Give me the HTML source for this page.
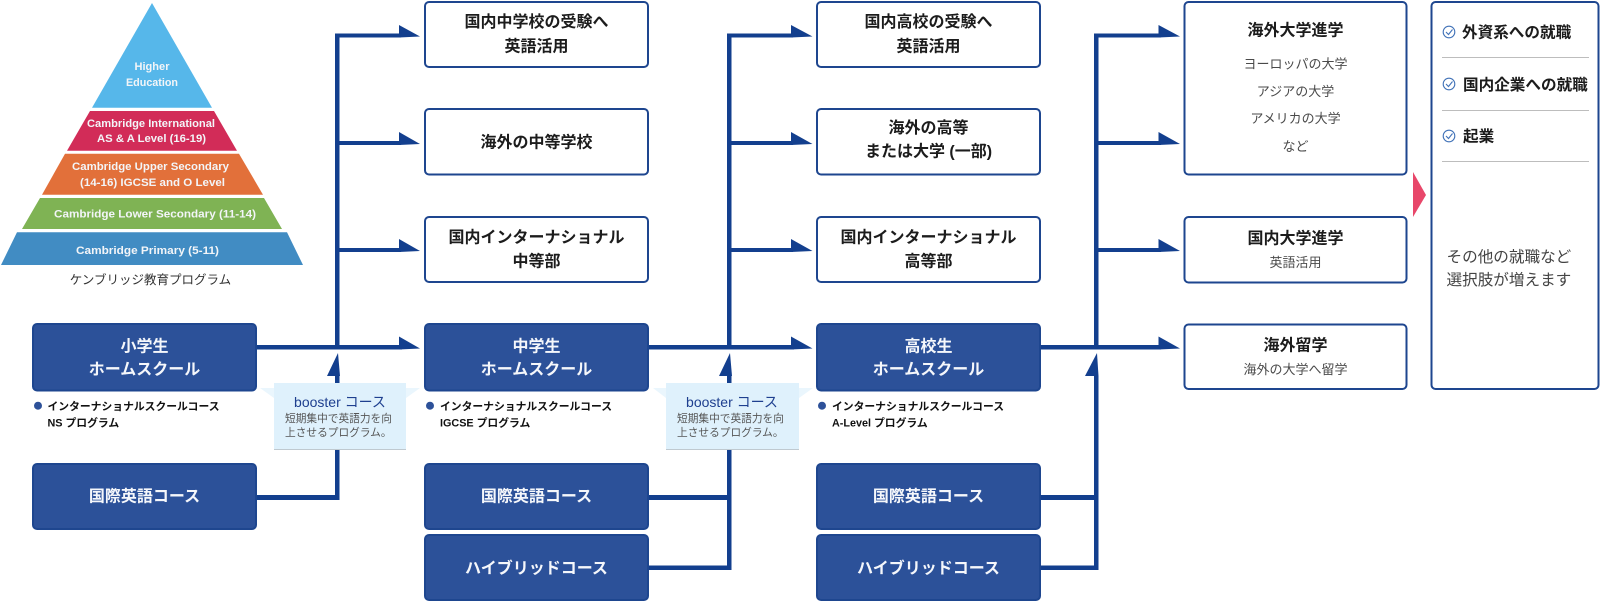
<!DOCTYPE html>
<html lang="ja"><head><meta charset="utf-8"><title>Cambridge Pathway</title>
<style>
html,body{margin:0;padding:0;background:#fff;width:1600px;height:602px;overflow:hidden}
svg{display:block}
text{font-family:"Liberation Sans","Noto Sans CJK JP",sans-serif;text-anchor:middle;dominant-baseline:central}
.b{fill:#2c5199;stroke:#1e468f;stroke-width:2}
.w{fill:#fff;stroke:#1e468f;stroke-width:2}
.bt{fill:#f5f7fb;font-size:16px;font-weight:700;transform:translateY(1px)}
.wt{fill:#1c1c1c;font-size:16px;font-weight:700;transform:translateY(1px)}
.sub{fill:#4a4a4a;font-size:13px;transform:translateY(.5px)}
.py{fill:#f3f5f8;font-size:11px;font-weight:700;transform:translateY(1px)}
.bl{fill:#111;font-size:10.8px;font-weight:700;text-anchor:start;transform:translateY(1px)}
.bh{fill:#1e3f8f;font-size:14px}
.bd{fill:#555;font-size:10.7px;text-anchor:start;transform:translateY(1px)}
.li{fill:#1c1c1c;font-size:15.6px;font-weight:700;text-anchor:start;transform:translateY(2px)}
.ot{fill:#444;font-size:15.6px;text-anchor:start;transform:translateY(.5px)}
.ln{fill:#133f8e}
.ck{fill:none;stroke:#4273b8;stroke-width:1.1}
</style></head><body>
<svg width="1600" height="602" viewBox="0 0 1600 602" xmlns="http://www.w3.org/2000/svg">
<!-- pyramid -->
<polygon points="152,3 212,107.7 92,107.7" fill="#56b7ea"/>
<polygon points="90,111 214,111 237,150.7 67,150.7" fill="#d22c58"/>
<polygon points="65,153.7 239,153.7 263,194.7 42,194.7" fill="#e2703a"/>
<polygon points="40,198 264,198 282,229 22,229" fill="#7fb354"/>
<polygon points="17,232.3 287,232.3 303,265 1,265" fill="#418cc3"/>
<text class="py" x="152" y="66" textLength="35" lengthAdjust="spacingAndGlyphs">Higher</text>
<text class="py" x="152" y="82" textLength="52" lengthAdjust="spacingAndGlyphs">Education</text>
<text class="py" x="151" y="123" textLength="128" lengthAdjust="spacingAndGlyphs">Cambridge International</text>
<text class="py" x="151.5" y="138" textLength="109" lengthAdjust="spacingAndGlyphs">AS &amp; A Level (16-19)</text>
<text class="py" x="150.5" y="166" textLength="157" lengthAdjust="spacingAndGlyphs">Cambridge Upper Secondary</text>
<text class="py" x="152.5" y="182" textLength="145" lengthAdjust="spacingAndGlyphs">(14-16) IGCSE and O Level</text>
<text class="py" x="155" y="213.5" textLength="202" lengthAdjust="spacingAndGlyphs">Cambridge Lower Secondary (11-14)</text>
<text class="py" x="147.5" y="250" textLength="143" lengthAdjust="spacingAndGlyphs">Cambridge Primary (5-11)</text>
<text x="150.5" y="280" font-size="12.5" fill="#333">ケンブリッジ教育プログラム</text>

<!-- connectors col1 -->
<g class="ln">
<rect x="335" y="33.5" width="66" height="4"/><rect x="335" y="33.5" width="4.5" height="316"/>
<rect x="335" y="141" width="66" height="4"/><rect x="335" y="248" width="66" height="4"/>
<rect x="256" y="345" width="146" height="4.5"/>
<polygon points="399,25 420,36.5 399,37.5"/><polygon points="399,132 420,144 399,145"/><polygon points="399,239 420,251 399,252"/><polygon points="399,336.5 420,348.5 399,349.5"/>
<polygon points="338,353 340,376 327,376"/><rect x="335" y="376" width="4.5" height="10"/>
<rect x="335" y="445" width="4.5" height="55"/><rect x="256" y="495" width="83.5" height="5"/>
<!-- col2 -->
<rect x="727" y="33.5" width="66" height="4"/><rect x="727" y="33.5" width="4.5" height="316"/>
<rect x="727" y="141" width="66" height="4"/><rect x="727" y="248" width="66" height="4"/>
<rect x="648" y="345" width="146" height="4.5"/>
<polygon points="791,25 812.5,36.5 791,37.5"/><polygon points="791,132 812.5,144 791,145"/><polygon points="791,239 812.5,251 791,252"/><polygon points="791,336.5 812.5,348.5 791,349.5"/>
<polygon points="730,353 732,376 719,376"/><rect x="727" y="376" width="4.5" height="10"/>
<rect x="727" y="445" width="4.5" height="125"/><rect x="648" y="495" width="83.5" height="5"/><rect x="648" y="565.5" width="83.5" height="4.5"/>
<!-- col3 -->
<rect x="1094" y="33.5" width="67" height="4"/><rect x="1094" y="33.5" width="4.5" height="316"/>
<rect x="1094" y="141" width="67" height="4"/><rect x="1094" y="248" width="67" height="4"/>
<rect x="1040" y="345" width="121" height="4.5"/>
<polygon points="1158.5,25 1180,36.5 1158.5,37.5"/><polygon points="1158.5,132 1180,144 1158.5,145"/><polygon points="1158.5,239 1180,251 1158.5,252"/><polygon points="1158.5,336.5 1180,348.5 1158.5,349.5"/>
<polygon points="1097,353 1098.5,376 1085,376"/><rect x="1094" y="376" width="4.5" height="194"/>
<rect x="1040" y="495" width="58.5" height="5"/><rect x="1040" y="565.5" width="58.5" height="4.5"/>
</g>

<!-- boosters -->
<g fill="#eaf6fd">
<polygon points="260,388 274,388 274,398"/><polygon points="406,388 420,388 406,398"/>
<polygon points="653,388 666,388 666,398"/><polygon points="799,388 813,388 799,398"/>
</g>
<g fill="#dff1fc">
<rect x="274" y="383" width="132" height="66"/>
<rect x="666" y="383" width="133" height="66"/>
</g>
<rect x="274" y="449" width="132" height="1" fill="#bfc9d0"/>
<rect x="666" y="449" width="133" height="1" fill="#bfc9d0"/>
<text class="bh" x="340" y="402">booster コース</text>
<text class="bd" x="285" y="418">短期集中で英語力を向</text>
<text class="bd" x="285" y="432">上させるプログラム。</text>
<text class="bh" x="732" y="402">booster コース</text>
<text class="bd" x="677" y="418">短期集中で英語力を向</text>
<text class="bd" x="677" y="432">上させるプログラム。</text>

<!-- blue boxes -->
<g class="b">
<rect x="33" y="324" width="223" height="66.5" rx="4"/><rect x="33" y="464" width="223" height="65" rx="4"/>
<rect x="425" y="324" width="223" height="66.5" rx="4"/><rect x="425" y="464" width="223" height="65" rx="4"/><rect x="425" y="535" width="223" height="65" rx="4"/>
<rect x="817" y="324" width="223" height="66.5" rx="4"/><rect x="817" y="464" width="223" height="65" rx="4"/><rect x="817" y="535" width="223" height="65" rx="4"/>
</g>
<text class="bt" x="144.5" y="346">小学生</text><text class="bt" x="144.5" y="369">ホームスクール</text>
<text class="bt" x="144.5" y="496">国際英語コース</text>
<text class="bt" x="536.5" y="346">中学生</text><text class="bt" x="536.5" y="369">ホームスクール</text>
<text class="bt" x="536.5" y="496">国際英語コース</text><text class="bt" x="536.5" y="568">ハイブリッドコース</text>
<text class="bt" x="928.5" y="346">高校生</text><text class="bt" x="928.5" y="369">ホームスクール</text>
<text class="bt" x="928.5" y="496">国際英語コース</text><text class="bt" x="928.5" y="568">ハイブリッドコース</text>

<!-- bullets -->
<g fill="#2d5199"><circle cx="38" cy="405.7" r="4"/><circle cx="430" cy="405.7" r="4"/><circle cx="822" cy="405.7" r="4"/></g>
<text class="bl" x="47.5" y="406">インターナショナルスクールコース</text><text class="bl" x="47.5" y="422.5">NS プログラム</text>
<text class="bl" x="440" y="406">インターナショナルスクールコース</text><text class="bl" x="440" y="422.5">IGCSE プログラム</text>
<text class="bl" x="832" y="406">インターナショナルスクールコース</text><text class="bl" x="832" y="422.5">A-Level プログラム</text>

<!-- white boxes -->
<g class="w">
<rect x="425" y="2" width="223" height="65" rx="4"/><rect x="425" y="109" width="223" height="65.5" rx="4"/><rect x="425" y="217" width="223" height="65" rx="4"/>
<rect x="817" y="2" width="223" height="65" rx="4"/><rect x="817" y="109" width="223" height="65.5" rx="4"/><rect x="817" y="217" width="223" height="65" rx="4"/>
<rect x="1184.5" y="2" width="222" height="172.5" rx="4"/><rect x="1184.5" y="217" width="222" height="65.5" rx="4"/><rect x="1184.5" y="324.5" width="222" height="64.5" rx="4"/>
<rect x="1431.5" y="2" width="167" height="387" rx="4"/>
</g>
<text class="wt" x="536.5" y="21.5">国内中学校の受験へ</text><text class="wt" x="536.5" y="46">英語活用</text>
<text class="wt" x="536.5" y="142">海外の中等学校</text>
<text class="wt" x="536.5" y="237">国内インターナショナル</text><text class="wt" x="536.5" y="261">中等部</text>
<text class="wt" x="928.5" y="21.5">国内高校の受験へ</text><text class="wt" x="928.5" y="46">英語活用</text>
<text class="wt" x="928.5" y="127.5">海外の高等</text><text class="wt" x="928.5" y="151">または大学 (一部)</text>
<text class="wt" x="928.5" y="237">国内インターナショナル</text><text class="wt" x="928.5" y="261">高等部</text>
<text class="wt" x="1295.5" y="30">海外大学進学</text>
<text class="sub" x="1295.5" y="63.5">ヨーロッパの大学</text><text class="sub" x="1295.5" y="91">アジアの大学</text><text class="sub" x="1295.5" y="118">アメリカの大学</text><text class="sub" x="1295.5" y="146">など</text>
<text class="wt" x="1295.5" y="238">国内大学進学</text><text class="sub" x="1295.5" y="262">英語活用</text>
<text class="wt" x="1295.5" y="345">海外留学</text><text class="sub" x="1295.5" y="369">海外の大学へ留学</text>

<!-- right panel -->
<polygon points="1413,172 1426,195 1413,217" fill="#e8476a"/>
<g class="ck">
<circle cx="1449" cy="32" r="5.8"/><polyline points="1446,32 1448.5,34.5 1452.5,29.5"/>
<circle cx="1449" cy="84" r="5.8"/><polyline points="1446,84 1448.5,86.5 1452.5,81.5"/>
<circle cx="1449" cy="136" r="5.8"/><polyline points="1446,136 1448.5,138.500 1452.5,133.500"/>
</g>
<text class="li" x="1462" y="31">外資系への就職</text>
<text class="li" x="1463" y="83.5">国内企業への就職</text>
<text class="li" x="1463" y="135">起業</text>
<g fill="#bdbdbd"><rect x="1442" y="57" width="147" height="1"/><rect x="1442" y="110" width="147" height="1"/><rect x="1442" y="161" width="147" height="1"/></g>
<text class="ot" x="1446.5" y="257">その他の就職など</text>
<text class="ot" x="1446.5" y="280">選択肢が増えます</text>
</svg>
</body></html>
